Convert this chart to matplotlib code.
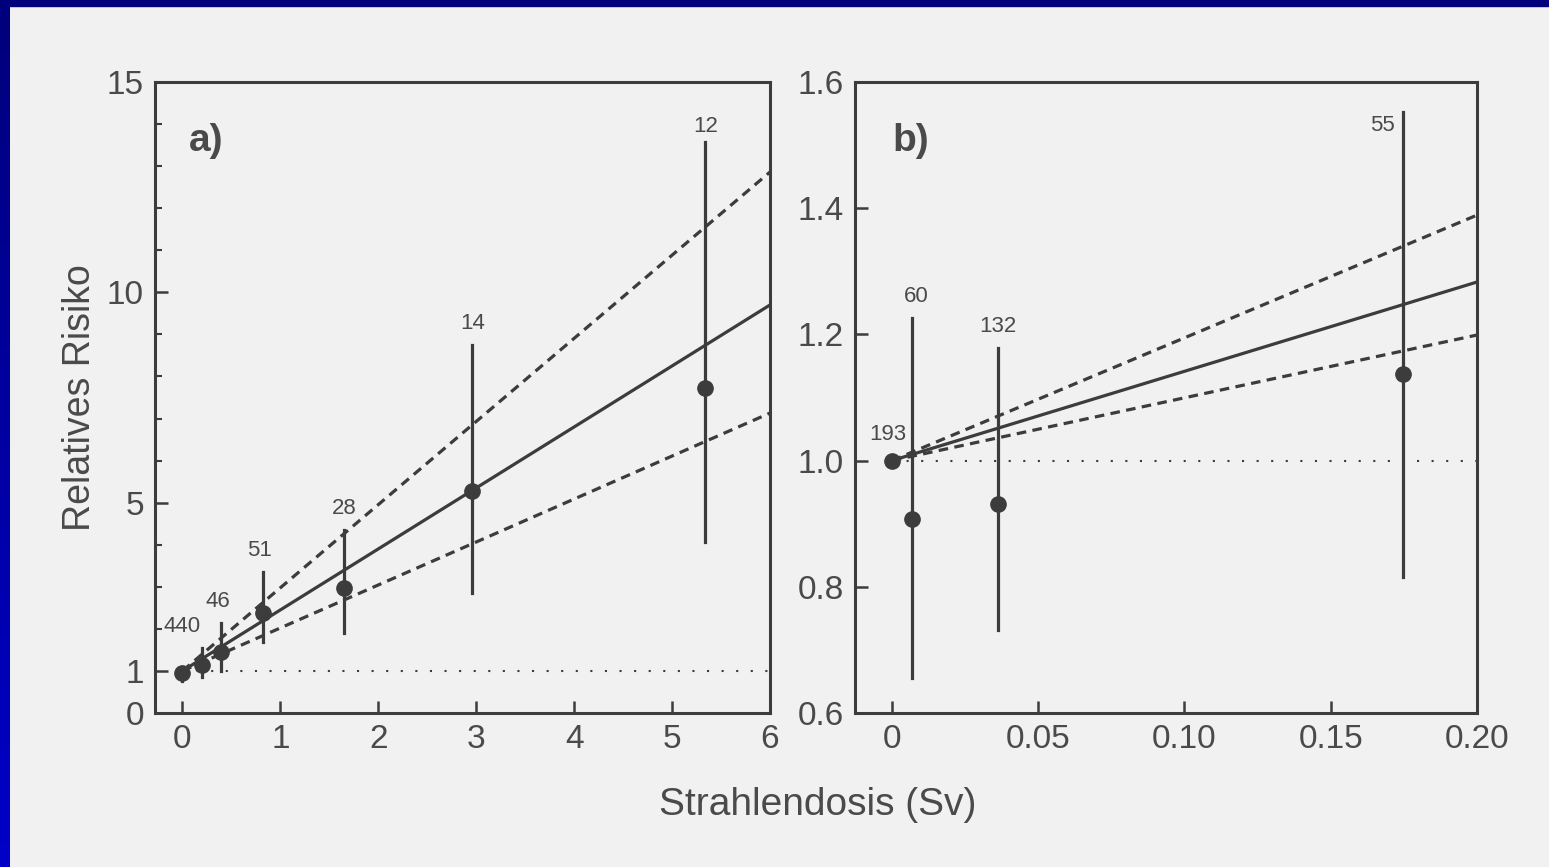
import matplotlib
matplotlib.use("Agg")
import matplotlib.pyplot as plt
import numpy as np
from matplotlib.colors import LinearSegmentedColormap

plt.rcParams['font.family'] = ['Liberation Sans', 'DejaVu Sans']

# Panel a) - whole dose range
dose_a = [0.0, 0.2, 0.39, 0.82, 1.65, 2.96, 5.34]
rr_a = [0.95, 1.15, 1.45, 2.38, 2.97, 5.28, 7.72]
lo_a = [0.75, 0.85, 1.0, 1.69, 1.9, 2.85, 4.06]
hi_a = [1.1, 1.55, 2.14, 3.35, 4.35, 8.75, 13.57]
n_a = ['', '440', '46', '51', '28', '14', '12']
fit_x_a = [0, 6]
fit_a = [1.0, 9.70]
fit_hi_a = [1.0, 12.86]
fit_lo_a = [1.0, 7.13]

# Panel b) - low dose range
dose_b = [0.0, 0.0068, 0.0362, 0.1747]
rr_b = [1.0, 0.907, 0.931, 1.137]
lo_b = [1.0, 0.655, 0.732, 0.815]
hi_b = [1.0, 1.226, 1.178, 1.552]
n_b = ['193', '60', '132', '55']
fit_x_b = [0, 0.2]
fit_b = [1.0, 1.283]
fit_hi_b = [1.0, 1.389]
fit_lo_b = [1.0, 1.199]

paper = '#f1f1f2'
ink = '#3c3c3c'
txt = '#4a4a4a'

fig = plt.figure(figsize=(15.49, 8.67), dpi=100)
fig.patch.set_facecolor(paper)

# blauer Rahmen (oben + links)
fig.patches.append(plt.Rectangle((0, 1 - 6 / 867), 1, 6 / 867, transform=fig.transFigure,
                                 color='#00007c', zorder=0))
bax = fig.add_axes([0, 0, 10 / 1549, 1 - 6 / 867])
grad = np.linspace(0, 1, 256).reshape(-1, 1)
cm = LinearSegmentedColormap.from_list('b', ['#00007c', '#0000c8'])
bax.imshow(grad, aspect='auto', cmap=cm)
bax.axis('off')

ax1 = fig.add_axes([155 / 1549, 1 - 713 / 867, 615 / 1549, 631 / 867])
ax2 = fig.add_axes([855 / 1549, 1 - 713 / 867, 622 / 1549, 631 / 867])


def style(ax):
    ax.set_facecolor(paper)
    for s in ax.spines.values():
        s.set_linewidth(2.2)
        s.set_color(ink)
    ax.tick_params(direction='in', length=9, width=1.8, colors=ink, labelcolor=txt,
                   labelsize=24, pad=8)
    ax.tick_params(which='minor', direction='in', length=5, width=1.5, colors=ink)


def panel(ax, x, y, lo, hi, n, fx, f, fh, fl, xlim, offs):
    ax.plot(xlim, [1, 1], linestyle=(0, (1, 6)), color=ink, lw=1.5, zorder=1)
    ax.plot(fx, f, color=ink, lw=2.3, zorder=2)
    ax.plot(fx, fh, color=ink, lw=2.3, linestyle=(0, (3, 2)), zorder=2)
    ax.plot(fx, fl, color=ink, lw=2.3, linestyle=(0, (3, 2)), zorder=2)
    for xi, yi, l, h, lab in zip(x, y, lo, hi, n):
        ax.plot([xi, xi], [l, h], color=ink, lw=2.3, zorder=3)
        ax.plot(xi, yi, 'o', color=ink, ms=11, zorder=4)
        if lab:
            dx, dy, ha, va = offs.get(lab, (0, 8, 'center', 'bottom'))
            ax.annotate(lab, (xi, h), xytext=(dx, dy), textcoords='offset points',
                        ha=ha, va=va, fontsize=16, color=txt)


style(ax1)
panel(ax1, dose_a, rr_a, lo_a, hi_a, n_a, fit_x_a, fit_a, fit_hi_a, fit_lo_a, [0, 6],
      {'440': (-14, 8, 'center', 'bottom'), '12': (0, 4, 'center', 'bottom'),
       '51': (-2, 8, 'center', 'bottom'), '46': (-2, 8, 'center', 'bottom')})
ax1.set_xlim(-0.28, 6.0)
ax1.set_ylim(0, 15)
ax1.set_xticks(range(7))
ax1.set_yticks([0, 1, 5, 10, 15])
ax1.set_yticks(range(16), minor=True)
ax1.set_ylabel('Relatives Risiko', fontsize=27, color=txt, labelpad=6)
ax1.text(0.055, 0.935, 'a)', transform=ax1.transAxes, fontsize=28, fontweight='bold',
         color=txt, va='top')

style(ax2)
panel(ax2, dose_b, rr_b, lo_b, hi_b, n_b, fit_x_b, fit_b, fit_hi_b, fit_lo_b, [0, 0.2],
      {'193': (-3, 11, 'center', 'bottom'), '55': (-6, -2, 'right', 'top'),
       '60': (3, 8, 'center', 'bottom')})
ax2.set_xlim(-0.0126, 0.2)
ax2.set_ylim(0.6, 1.6)
ax2.set_xticks([0, 0.05, 0.10, 0.15, 0.20])
ax2.set_xticklabels(['0', '0.05', '0.10', '0.15', '0.20'])
ax2.set_yticks([0.6, 0.8, 1.0, 1.2, 1.4, 1.6])
ax2.set_yticklabels(['0.6', '0.8', '1.0', '1.2', '1.4', '1.6'])
ax2.text(0.06, 0.935, 'b)', transform=ax2.transAxes, fontsize=28, fontweight='bold',
         color=txt, va='top')

fig.text(0.528, 1 - 805 / 867, 'Strahlendosis (Sv)', ha='center', va='center',
         fontsize=28, color=txt)

fig.savefig('out.png', dpi=100, facecolor=paper)
